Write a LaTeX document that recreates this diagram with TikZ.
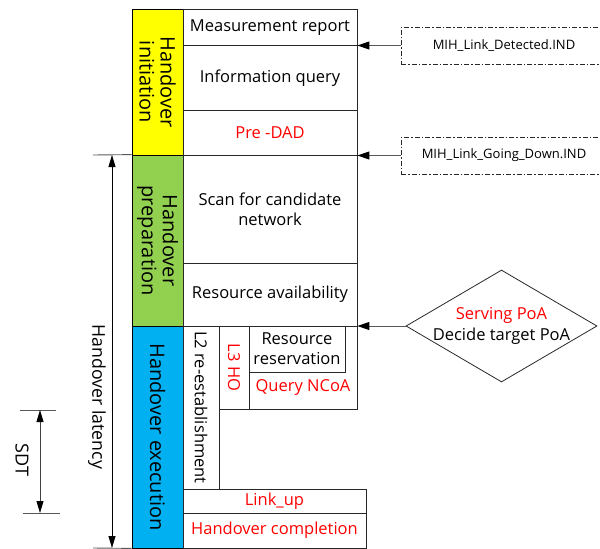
\documentclass[tikz,border=0pt]{standalone}
\usepackage{fontspec}
\setmainfont{Open Sans}
\usetikzlibrary{arrows.meta,shapes.geometric}
\definecolor{hoyellow}{RGB}{255,255,0}
\definecolor{hogreen}{RGB}{146,208,80}
\definecolor{hoblue}{RGB}{0,176,240}
\definecolor{edge}{RGB}{40,40,40}

\begin{document}
\begin{tikzpicture}[x=1pt,y=-1pt,
  cell/.style={draw=edge, line width=0.8pt, inner sep=0pt, align=center,
    font=\fontsize{16.5}{20}\selectfont},
  phase/.style={cell, draw=black},
  side/.style={rotate=-90, align=center, inner sep=0pt, font=\fontsize{20}{21}\selectfont},
  small/.style={rotate=-90, inner sep=0pt, font=\fontsize{16.5}{20}\selectfont},
  mih/.style={draw=edge, line width=0.8pt, dash pattern=on 5pt off 2pt on 1.5pt off 2pt,
    inner sep=0pt, font=\fontsize{13}{15}\selectfont},
  feed/.style={draw=black!65, line width=1pt,
    -{Triangle[length=12pt,width=8pt,color=black]}},
  span/.style={draw=black, line width=0.8pt,
    {Triangle[length=12pt,width=7pt,color=black]}-{Triangle[length=12pt,width=7pt,color=black]}},
  tick/.style={draw=black!65, line width=0.9pt},
]
\clip (0,0) rectangle (600,549);

% phase column
\node[phase, fill=hoyellow, minimum width=51, minimum height=146] (init) at (157.5,82) {};
\node[phase, fill=hogreen,  minimum width=51, minimum height=171] (prep) at (157.5,240.5) {};
\node[phase, fill=hoblue,   minimum width=51, minimum height=222] (exec) at (157.5,437) {};
\node[side] at (init) {Handover\\initiation};
\node[side] at (prep) {Handover\\preparation};
\node[side] at (exec) {Handover execution};

% initiation steps
\node[cell, minimum width=174, minimum height=36.5] (mr) at (270,27.25) {Measurement report};
\node[cell, minimum width=174, minimum height=64.5] (iq) at (270,77.75) {Information query};
\node[cell, minimum width=174, minimum height=45, text=red] (dad) at (270,132.5) {Pre -DAD};

% preparation steps
\node[cell, minimum width=174, minimum height=108] (scan) at (270,209) {Scan for candidate\\network};
\node[cell, minimum width=174, minimum height=63] (avail) at (270,294.5) {Resource availability};

% execution steps
\node[cell, minimum width=36, minimum height=163] (l2) at (201,407.5) {};
\node[small] at (l2) {L2 re-establishment};
\node[cell, minimum width=30, minimum height=83] (l3) at (234,367.5) {};
\node[small, text=red] at (l3) {L3 HO};
\node[cell, minimum width=108, minimum height=83] (qn) at (303,367.5) {};
\node[cell, draw=none, text=red] at (303,387) {Query NCoA};
\node[cell, minimum width=96, minimum height=46] (rr) at (297,349) {Resource\\reservation};
\node[cell, minimum width=183, minimum height=24, text=red] (link) at (274.5,501) {Link\_up};
\node[cell, minimum width=183, minimum height=35, text=red] (comp) at (274.5,530.5) {Handover completion};

% handover latency span
\coordinate (latT) at (93,155);
\coordinate (latB) at (93,548);
\coordinate (latA) at (112,155);
\coordinate (latZ) at (112,548);
\draw[tick] (latT) -- (prep.north west);
\draw[tick] (latB) -- (exec.south west);
\draw[span] (latA) -- (latZ);
\node[small, font=\fontsize{17.7}{20}\selectfont] at (97,397) {Handover latency};

% SDT span
\coordinate (sdtTL) at (20,410);
\coordinate (sdtTR) at (56,410);
\coordinate (sdtBL) at (23,513);
\coordinate (sdtBR) at (60,513);
\coordinate (sdtA) at (40,410);
\coordinate (sdtZ) at (40,513);
\draw[tick] (sdtTL) -- (sdtTR);
\draw[tick] (sdtBL) -- (sdtBR);
\draw[span, draw=black!75] (sdtA) -- (sdtZ);
\node[small, font=\fontsize{18}{20}\selectfont] at (22,460) {SDT};

% triggers
\node[mih, minimum width=206, minimum height=37] (det) at (504,45.5) {MIH\_Link\_Detected.IND};
\node[mih, minimum width=206, minimum height=37] (god) at (504,155.5) {MIH\_Link\_Going\_Down.IND};
\draw[feed] (det.west) -- (det.west -| mr.east);
\draw[feed] (god.west) -- (god.west -| scan.east);

% decision
\node[diamond, draw=edge, line width=0.8pt, inner sep=0pt,
  minimum width=191, minimum height=112] (dec) at (501.5,326) {};
\node[align=center, inner sep=0pt, font=\fontsize{16.5}{21}\selectfont] at (dec)
  {\textcolor{red}{Serving PoA}\\Decide target PoA};
\draw[feed] (dec.west) -- (dec.west -| avail.east);
\end{tikzpicture}
\end{document}
